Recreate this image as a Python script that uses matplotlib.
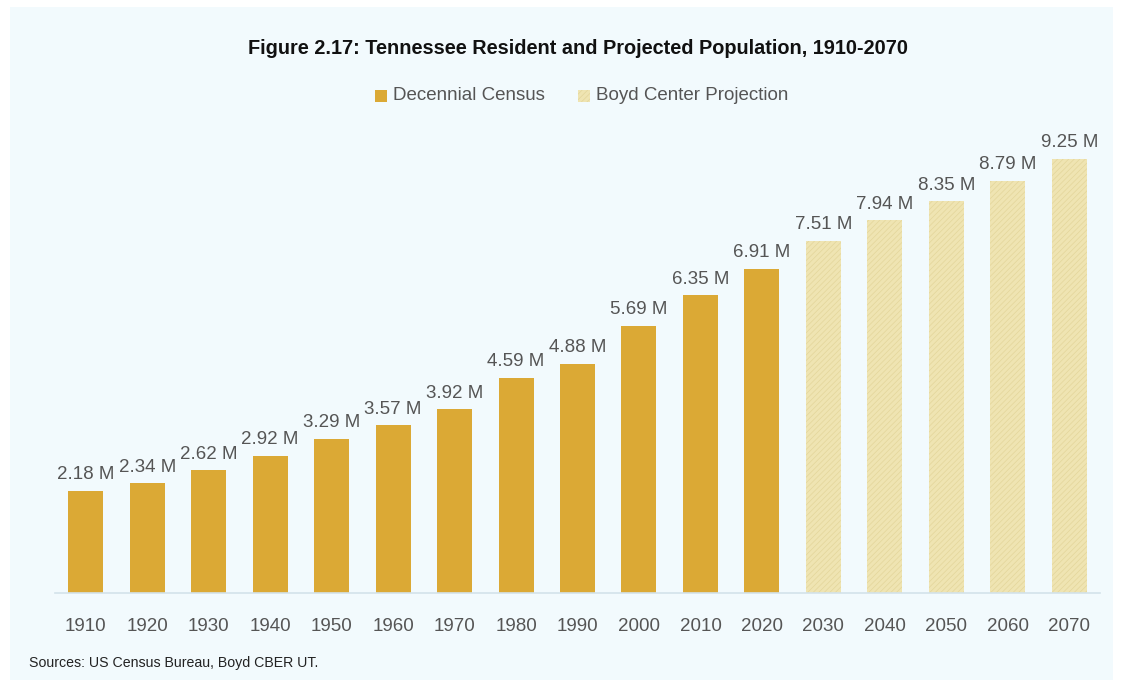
import matplotlib
matplotlib.use("Agg")
import matplotlib.pyplot as plt
from matplotlib.patches import Rectangle

plt.rcParams["font.family"] = ["Liberation Sans", "DejaVu Sans"]
plt.rcParams["hatch.linewidth"] = 0.5

years = ["1910", "1920", "1930", "1940", "1950", "1960", "1970", "1980", "1990",
         "2000", "2010", "2020", "2030", "2040", "2050", "2060", "2070"]
population = [2.18, 2.34, 2.62, 2.92, 3.29, 3.57, 3.92, 4.59, 4.88,
              5.69, 6.35, 6.91, 7.51, 7.94, 8.35, 8.79, 9.25]
n_census = 12  # 1910-2020 observed, rest projected

GOLD = "#DBA935"
PALE = "#EFE4B2"
BG = "#F2FAFD"
TXT = "#555555"

fig = plt.figure(figsize=(11.26, 6.87), dpi=100, facecolor="white")
fig.patches.append(Rectangle((10 / 1126, 7 / 687), 1103 / 1126, 673 / 687,
                             transform=fig.transFigure, facecolor=BG,
                             edgecolor="none", zorder=-5))

ax = fig.add_axes([55 / 1126, (687 - 593) / 687, 1045 / 1126, 473 / 687])
ax.set_facecolor("none")

x = range(len(years))
for i, (yr, val) in enumerate(zip(years, population)):
    if i < n_census:
        ax.bar(i, val, width=0.57, color=GOLD, zorder=2)
    else:
        ax.bar(i, val, width=0.57, color=PALE, edgecolor="#E3D59A",
               hatch="//////", linewidth=0, zorder=2)
    ax.text(i, val + 0.16, f"{val:.2f} M", ha="center", va="bottom",
            fontsize=13.5, color=TXT)

ax.set_xlim(-0.5, len(years) - 0.5)
ax.set_ylim(0, 10.08)
ax.set_xticks(list(x))
ax.set_xticklabels(years, fontsize=13.5, color=TXT)
ax.tick_params(axis="x", length=0, pad=18)
ax.set_yticks([])
for s in ["top", "right", "left"]:
    ax.spines[s].set_visible(False)
ax.spines["bottom"].set_color("#D3E2EA")
ax.spines["bottom"].set_linewidth(1.2)

fig.text(578 / 1126, 1 - 49 / 687,
         "Figure 2.17: Tennessee Resident and Projected Population, 1910-2070",
         ha="center", va="center", fontsize=14.3, fontweight="bold", color="#111111")

# legend
leg_y = 1 - 96 / 687
fig.patches.append(Rectangle((375 / 1126, leg_y - 6 / 687), 12 / 1126, 12 / 687,
                             transform=fig.transFigure, facecolor=GOLD, edgecolor="none"))
fig.text(393 / 1126, leg_y, "Decennial Census", ha="left", va="center",
         fontsize=13.5, color=TXT)
fig.patches.append(Rectangle((578 / 1126, leg_y - 6 / 687), 12 / 1126, 12 / 687,
                             transform=fig.transFigure, facecolor=PALE,
                             edgecolor="#E3D59A", hatch="//////", linewidth=0))
fig.text(596 / 1126, leg_y, "Boyd Center Projection", ha="left", va="center",
         fontsize=13.5, color=TXT)

fig.text(29 / 1126, 1 - 663 / 687, "Sources: US Census Bureau, Boyd CBER UT.",
         ha="left", va="center", fontsize=10.2, color="#222222")

fig.savefig("out.png", dpi=100, facecolor="white")
